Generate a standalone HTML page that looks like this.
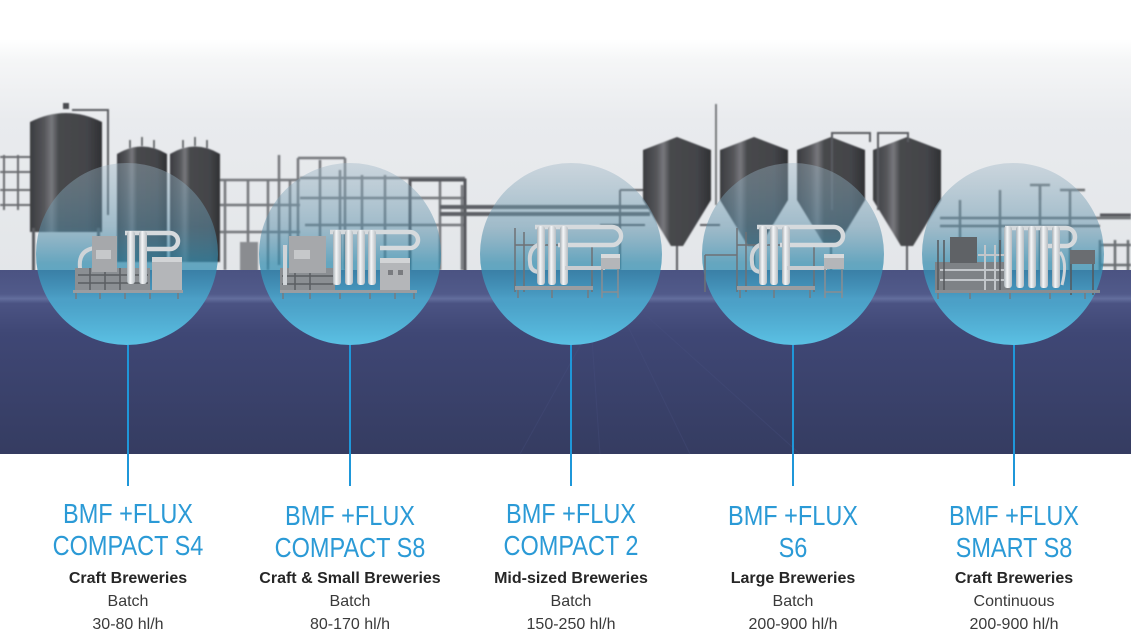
<!DOCTYPE html>
<html><head><meta charset="utf-8"><style>
html,body{margin:0;padding:0;background:#fff;}
body{width:1131px;height:644px;overflow:hidden;}
svg{display:block;}
.t{font-family:"Liberation Sans",sans-serif;font-size:28px;fill:#2b9ad6;}
.s{font-family:"Liberation Sans",sans-serif;font-size:16px;font-weight:bold;fill:#262626;}
.n{font-family:"Liberation Sans",sans-serif;font-size:16px;fill:#3a3a3a;}
</style></head><body>
<svg width="1131" height="644" viewBox="0 0 1131 644" xmlns="http://www.w3.org/2000/svg">
<defs>
<linearGradient id="sky" x1="0" y1="0" x2="0" y2="300" gradientUnits="userSpaceOnUse">
<stop offset="0" stop-color="#ffffff"/><stop offset="0.13" stop-color="#ffffff"/>
<stop offset="0.2" stop-color="#f5f6f7"/><stop offset="0.4" stop-color="#e9ebee"/><stop offset="1" stop-color="#e2e5e8"/>
</linearGradient>
<linearGradient id="floor" x1="0" y1="268" x2="0" y2="454" gradientUnits="userSpaceOnUse">
<stop offset="0" stop-color="#4a5281"/><stop offset="0.14" stop-color="#515a8a"/>
<stop offset="0.165" stop-color="#636e9d"/><stop offset="0.19" stop-color="#4b5383"/>
<stop offset="0.35" stop-color="#3f4775"/><stop offset="1" stop-color="#353c61"/>
</linearGradient>
<linearGradient id="circ" x1="0" y1="0" x2="0" y2="1">
<stop offset="0" stop-color="#9fb6c5" stop-opacity="0.4"/>
<stop offset="0.35" stop-color="#5a8ea8" stop-opacity="0.5"/>
<stop offset="0.55" stop-color="#2f8aad" stop-opacity="0.7"/>
<stop offset="0.75" stop-color="#4aa6cc" stop-opacity="0.9"/>
<stop offset="1" stop-color="#5bc1e4" stop-opacity="1"/>
</linearGradient>
<linearGradient id="cyl" x1="0" y1="0" x2="1" y2="0">
<stop offset="0" stop-color="#a9b0b6"/><stop offset="0.4" stop-color="#f4f6f7"/><stop offset="1" stop-color="#b7bdc2"/>
</linearGradient>
<linearGradient id="tank" x1="0" y1="0" x2="1" y2="0">
<stop offset="0" stop-color="#3a3b3f"/><stop offset="0.2" stop-color="#55565a"/><stop offset="0.3" stop-color="#77787c"/>
<stop offset="0.4" stop-color="#47484c"/><stop offset="0.8" stop-color="#434448"/><stop offset="1" stop-color="#2f3033"/>
</linearGradient>
<filter id="bl" x="-5%" y="-5%" width="110%" height="110%"><feGaussianBlur stdDeviation="0.7"/></filter>
</defs>

<rect x="0" y="0" width="1131" height="300" fill="url(#sky)"/>

<!-- factory background -->
<g filter="url(#bl)">
 <g stroke="#6a6c70" stroke-width="2" fill="none">
  <path d="M0 157H40M0 172H40M0 190H40M0 205H40M4 155V210M18 155V210M34 155V210"/>
 </g>
 <path d="M30 122 Q66 104 102 122 V232 H30 Z" fill="url(#tank)"/>
 <rect x="63" y="103" width="6" height="6" fill="#4a4b4f"/>
 <path d="M72 110 H108 V215" stroke="#5a5c60" stroke-width="2" fill="none"/>
 <rect x="32" y="228" width="3" height="52" fill="#5a5c60"/>
 <rect x="97" y="228" width="3" height="52" fill="#5a5c60"/>
 <path d="M117 154 Q142 139 167 154 V262 H117 Z" fill="url(#tank)"/>
 <path d="M170 154 Q195 139 220 154 V262 H170 Z" fill="url(#tank)"/>
 <g stroke="#4a4b4f" stroke-width="1.5"><path d="M130 140V148M142 137V146M154 140V148M183 140V148M195 137V146M207 140V148"/></g>
 <g stroke="#74777b" stroke-width="2.5" fill="none">
  <path d="M220 180H300M220 205H300M220 232H300M225 180V270M248 180V270M268 180V270M290 180V270"/>
  <path d="M279 155V265"/>
  <path d="M298 158H345M298 158V270M345 158V270M300 178H465M300 198H465M305 225H465M320 160V270M340 170V270M362 175V270M385 175V270M410 178V270M440 178V270M462 185V270"/>
 </g>
 <rect x="240" y="242" width="18" height="38" fill="#8a8c90"/>
 <rect x="410" y="180" width="55" height="95" fill="none" stroke="#55575b" stroke-width="3"/>
 <g stroke="#5d6065" stroke-width="4"><path d="M440 207H650M440 214H650"/></g>
 <g>
  <path d="M643 150 L677 137 L711 150 V200 L683 246 H671 L643 200 Z" fill="url(#tank)"/>
  <path d="M720 150 L754 137 L788 150 V200 L760 246 H748 L720 200 Z" fill="url(#tank)"/>
  <path d="M797 150 L831 137 L865 150 V200 L837 246 H825 L797 200 Z" fill="url(#tank)"/>
  <path d="M873 150 L907 137 L941 150 V200 L913 246 H901 L873 200 Z" fill="url(#tank)"/>
 </g>
 <path d="M716 104V205" stroke="#55575b" stroke-width="1.5"/>
 <g stroke="#5a5c60" stroke-width="2" fill="none">
  <path d="M832 210V133H870V142M878 210V133H908V142"/>
  <path d="M677 246V280M754 246V282M831 246V282M907 246V285"/>
  <path d="M620 190H643M620 190V270M600 225H645M700 225H720"/>
 </g>
 <g stroke="#6b6e72" stroke-width="2.5" fill="none">
  <path d="M940 218H1131M940 226H1100M960 200V285M1000 190V285M1040 185V280M1070 190V290M1100 240V295M1115 240V295M1128 240V295M1100 245H1131M1100 265H1131"/>
  <path d="M1030 185H1050M1040 185V200M1060 190H1085"/>
 </g>
 <g stroke="#55575b" stroke-width="3"><path d="M1100 215H1131"/></g>
</g>

<!-- floor -->
<rect x="0" y="270" width="1131" height="184" fill="url(#floor)"/>
<g stroke="#4a5282" stroke-width="1" opacity="0.3">
 <path d="M520 454L600 310M600 454L590 310M690 454L620 310M800 454L640 310"/>
</g>

<!-- circles -->
<g fill="url(#circ)">
 <circle cx="127" cy="254" r="91"/>
 <circle cx="350" cy="254" r="91"/>
 <circle cx="571" cy="254" r="91"/>
 <circle cx="793" cy="254" r="91"/>
 <circle cx="1013" cy="254" r="91"/>
</g>

<!-- machine 1 -->
<g>
 <path d="M95 248 Q78 250 80 268 Q80 278 92 280" stroke="#cfd4d8" stroke-width="4" fill="none"/>
 <rect x="75" y="268" width="75" height="22" fill="#8b8f93"/>
 <g stroke="#5b5e62" stroke-width="1.5"><path d="M78 275H148M78 283H148M90 268V290M105 268V290M120 268V290"/></g>
 <rect x="92" y="236" width="25" height="36" fill="#a6a8ab"/>
 <rect x="96" y="250" width="15" height="9" fill="#c6c8ca"/>
 <path d="M125 233 H170 A8 8 0 0 1 170 249 H146" stroke="#d6dadd" stroke-width="4.5" fill="none"/>
 <rect x="127" y="231" width="8" height="53" rx="3" fill="url(#cyl)"/>
 <rect x="139" y="231" width="8" height="53" rx="3" fill="url(#cyl)"/>
 <rect x="152" y="257" width="30" height="35" fill="#b4b6b9"/>
 <rect x="152" y="257" width="30" height="5" fill="#d2d4d6"/>
 <rect x="73" y="290" width="110" height="3" fill="#9a9da1"/>
 <g stroke="#777a7e" stroke-width="1.5"><path d="M76 293V299M100 293V299M125 293V299M150 293V299M178 293V299"/></g>
</g>

<!-- machine 2 -->
<g>
 <rect x="280" y="268" width="55" height="23" fill="#8b8f93"/>
 <g stroke="#5b5e62" stroke-width="1.5"><path d="M282 276H333M282 284H333M295 268V291M310 268V291"/></g>
 <rect x="283" y="245" width="4" height="40" fill="#cfd4d8"/>
 <rect x="289" y="236" width="37" height="37" fill="#a6a8ab"/>
 <rect x="294" y="250" width="16" height="9" fill="#c6c8ca"/>
 <path d="M330 232 H410 A8 8 0 0 1 410 248 H380" stroke="#d6dadd" stroke-width="4.5" fill="none"/>
 <rect x="333" y="230" width="8" height="55" rx="3" fill="url(#cyl)"/>
 <rect x="345" y="230" width="8" height="55" rx="3" fill="url(#cyl)"/>
 <rect x="357" y="230" width="8" height="55" rx="3" fill="url(#cyl)"/>
 <rect x="368" y="230" width="8" height="55" rx="3" fill="url(#cyl)"/>
 <rect x="380" y="258" width="30" height="34" fill="#b4b6b9"/>
 <rect x="380" y="258" width="30" height="5" fill="#d2d4d6"/>
 <rect x="388" y="270" width="5" height="5" fill="#7a7c80"/><rect x="398" y="270" width="5" height="5" fill="#7a7c80"/>
 <rect x="280" y="290" width="137" height="3" fill="#9a9da1"/>
 <g stroke="#777a7e" stroke-width="1.5"><path d="M283 293V299M310 293V299M340 293V299M370 293V299M395 293V299M414 293V299"/></g>
</g>

<!-- machine 3 -->
<g>
 <g stroke="#6e7175" stroke-width="1.5" fill="none"><path d="M515 228V292M524 232V292M592 245V292M515 245H600"/></g>
 <path d="M545 243 Q528 245 530 262 Q530 272 540 272" stroke="#cfd4d8" stroke-width="4" fill="none"/>
 <path d="M535 227 H612 A9 9 0 0 1 612 245 H558" stroke="#d6dadd" stroke-width="4.5" fill="none"/>
 <rect x="537" y="226" width="8" height="59" rx="3" fill="url(#cyl)"/>
 <rect x="548" y="226" width="8" height="59" rx="3" fill="url(#cyl)"/>
 <rect x="560" y="226" width="8" height="59" rx="3" fill="url(#cyl)"/>
 <rect x="565" y="266" width="40" height="4" fill="#c8ccd0"/>
 <rect x="601" y="254" width="19" height="15" fill="#b4b6b9"/>
 <rect x="601" y="254" width="19" height="4" fill="#d8dadc"/>
 <g stroke="#8a8d91" stroke-width="1.5"><path d="M602 269V298M618 269V298M602 292H618"/></g>
 <rect x="515" y="286" width="78" height="4" fill="#9a9da1"/>
 <g stroke="#777a7e" stroke-width="1.5"><path d="M518 290V298M552 290V298M588 290V298"/></g>
</g>

<!-- machine 4 -->
<g>
 <g stroke="#6e7175" stroke-width="1.5" fill="none"><path d="M737 228V292M746 232V292M814 245V292M737 245H822M705 255H737M705 255V292"/></g>
 <path d="M767 243 Q750 245 752 262 Q752 272 762 272" stroke="#cfd4d8" stroke-width="4" fill="none"/>
 <path d="M757 227 H834 A9 9 0 0 1 834 245 H780" stroke="#d6dadd" stroke-width="4.5" fill="none"/>
 <rect x="759" y="226" width="8" height="59" rx="3" fill="url(#cyl)"/>
 <rect x="770" y="226" width="8" height="59" rx="3" fill="url(#cyl)"/>
 <rect x="782" y="226" width="8" height="59" rx="3" fill="url(#cyl)"/>
 <rect x="787" y="266" width="40" height="4" fill="#c8ccd0"/>
 <rect x="824" y="254" width="20" height="15" fill="#b4b6b9"/>
 <rect x="824" y="254" width="20" height="4" fill="#d8dadc"/>
 <g stroke="#8a8d91" stroke-width="1.5"><path d="M825 269V298M842 269V298M825 292H842"/></g>
 <rect x="737" y="286" width="78" height="4" fill="#9a9da1"/>
 <g stroke="#777a7e" stroke-width="1.5"><path d="M740 290V298M774 290V298M810 290V298"/></g>
</g>

<!-- machine 5 -->
<g>
 <rect x="935" y="262" width="75" height="28" fill="#7e8286"/>
 <g stroke="#c2c6ca" stroke-width="2" fill="none"><path d="M940 270H1008M940 280H1008M985 245V290M995 245V290M978 255H1005"/></g>
 <g stroke="#55585c" stroke-width="1.5"><path d="M938 240V290M944 240V290M1000 240V290"/></g>
 <rect x="950" y="237" width="27" height="26" fill="#5f6266"/>
 <path d="M1005 228 H1066 A9 9 0 0 1 1066 246 H1040" stroke="#d6dadd" stroke-width="4.5" fill="none"/>
 <rect x="1004" y="226" width="8" height="62" rx="3" fill="url(#cyl)"/>
 <rect x="1016" y="226" width="8" height="62" rx="3" fill="url(#cyl)"/>
 <rect x="1028" y="226" width="8" height="62" rx="3" fill="url(#cyl)"/>
 <rect x="1040" y="226" width="8" height="62" rx="3" fill="url(#cyl)"/>
 <rect x="1052" y="226" width="8" height="62" rx="3" fill="url(#cyl)"/>
 <path d="M1060 252 Q1068 262 1062 285" stroke="#cfd4d8" stroke-width="3" fill="none"/>
 <rect x="1070" y="250" width="25" height="14" fill="#6a6d71"/>
 <g stroke="#55585c" stroke-width="1.5"><path d="M1071 264V295M1093 264V295"/></g>
 <rect x="935" y="290" width="165" height="3" fill="#8a8d91"/>
 <g stroke="#777a7e" stroke-width="1.5"><path d="M938 293V299M970 293V299M1010 293V299M1050 293V299M1085 293V299"/></g>
</g>

<!-- connector lines -->
<g stroke="#1f97d9" stroke-width="2">
 <path d="M128 345V486M350 345V486M571 345V486M793 345V486M1014 345V486"/>
</g>

<!-- labels -->
<g text-anchor="middle">
 <g transform="translate(128,0) scale(0.84,1)"><text class="t" x="0" y="523">BMF +FLUX</text><text class="t" x="0" y="555">COMPACT S4</text></g>
 <g transform="translate(350,0) scale(0.84,1)"><text class="t" x="0" y="525">BMF +FLUX</text><text class="t" x="0" y="557">COMPACT S8</text></g>
 <g transform="translate(571,0) scale(0.84,1)"><text class="t" x="0" y="523">BMF +FLUX</text><text class="t" x="0" y="555">COMPACT 2</text></g>
 <g transform="translate(793,0) scale(0.84,1)"><text class="t" x="0" y="525">BMF +FLUX</text><text class="t" x="0" y="557">S6</text></g>
 <g transform="translate(1014,0) scale(0.84,1)"><text class="t" x="0" y="525">BMF +FLUX</text><text class="t" x="0" y="557">SMART S8</text></g>

 <text class="s" x="128" y="583">Craft Breweries</text>
 <text class="n" x="128" y="606">Batch</text>
 <text class="n" x="128" y="629">30-80 hl/h</text>

 <text class="s" x="350" y="583">Craft &amp; Small Breweries</text>
 <text class="n" x="350" y="606">Batch</text>
 <text class="n" x="350" y="629">80-170 hl/h</text>

 <text class="s" x="571" y="583">Mid-sized Breweries</text>
 <text class="n" x="571" y="606">Batch</text>
 <text class="n" x="571" y="629">150-250 hl/h</text>

 <text class="s" x="793" y="583">Large Breweries</text>
 <text class="n" x="793" y="606">Batch</text>
 <text class="n" x="793" y="629">200-900 hl/h</text>

 <text class="s" x="1014" y="583">Craft Breweries</text>
 <text class="n" x="1014" y="606">Continuous</text>
 <text class="n" x="1014" y="629">200-900 hl/h</text>
</g>
</svg>
</body></html>
